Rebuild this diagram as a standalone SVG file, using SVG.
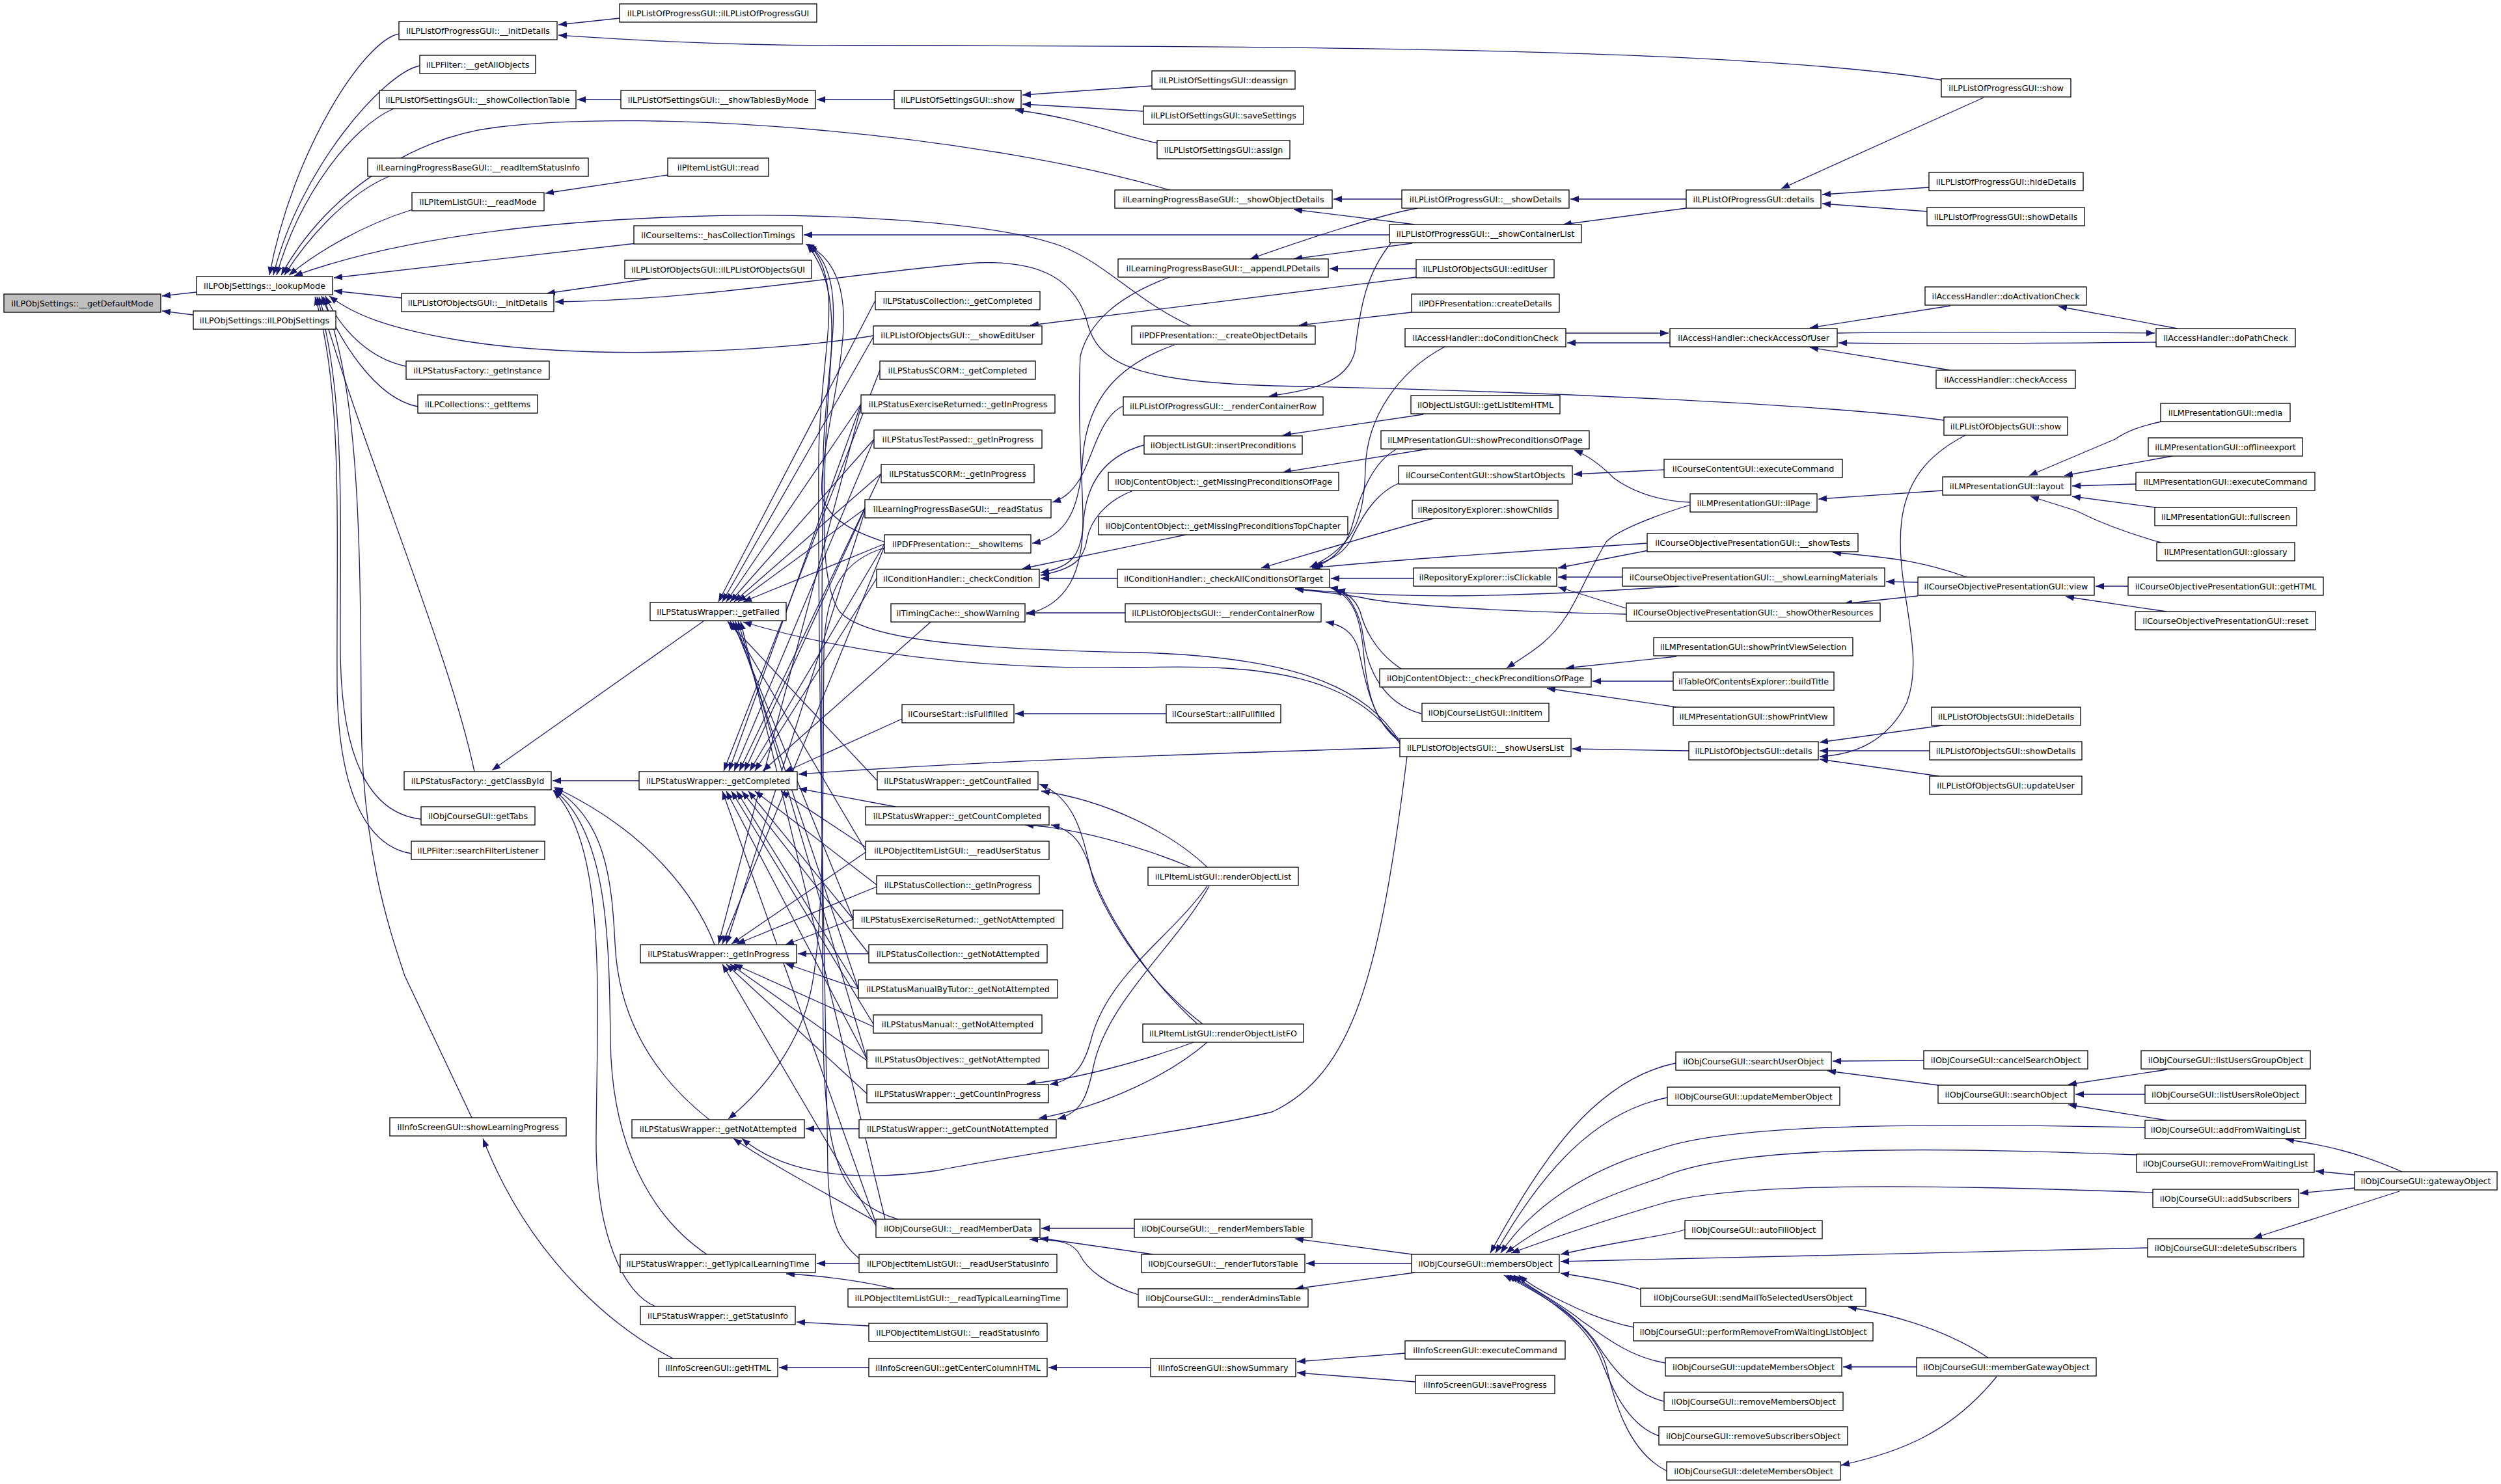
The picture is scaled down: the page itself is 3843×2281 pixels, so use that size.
<svg xmlns="http://www.w3.org/2000/svg" width="3843" height="2281" viewBox="0 0 3843 2281">
<defs>
<marker id="a" markerWidth="14" markerHeight="10" refX="13" refY="5" orient="auto" markerUnits="userSpaceOnUse"><path d="M0,0 L13,5 L0,10 z" fill="#191970"/></marker>
<style>
.n rect{fill:#fff;stroke:#000;stroke-width:1.3}
.n text{font-family:"DejaVu Sans",sans-serif;font-size:12.7px;text-anchor:middle;fill:#000}
#n0 rect{fill:#bfbfbf}
#edges path{fill:none;stroke:#191970;stroke-width:1.3;marker-end:url(#a)}
</style>
</defs>
<rect x="0" y="0" width="3843" height="2281" fill="#fff"/>
<g id="edges">
<path d="M302,449 L249,455"/>
<path d="M297,484 L249,478"/>
<path d="M613,52 C560,62 450,230 414,423"/>
<path d="M645,101 C590,112 460,260 420,423"/>
<path d="M605,167 C540,195 460,300 425,423"/>
<path d="M1797,292 C1500,205 1000,165 760,196 C630,212 500,300 432,423"/>
<path d="M598,271 C530,300 470,370 437,423"/>
<path d="M634,322 C560,345 490,385 444,423"/>
<path d="M1830,501 C1745,462 1700,405 1630,378 C1520,338 1250,326 1050,333 C800,342 600,370 452,424"/>
<path d="M978,374 L513,427"/>
<path d="M617,458 L513,447"/>
<path d="M1342,516 C1200,540 900,556 700,522 C600,505 545,485 506,455"/>
<path d="M624,563 C570,552 525,510 500,455"/>
<path d="M642,625 C575,612 520,520 494,455"/>
<path d="M729,1186 C690,1000 560,700 490,456"/>
<path d="M647,1259 C565,1250 524,1160 523,1000 C522,800 532,600 487,456"/>
<path d="M632,1312 C560,1300 519,1210 518,1050 C517,800 527,600 484,456"/>
<path d="M725,1718 L622,1500 C595,1420 556,1300 555,1100 C554,800 550,600 497,456"/>
<path d="M952,28 L858,38"/>
<path d="M2983,123 C2700,78 2100,70 1300,70 C1100,70 950,60 858,54"/>
<path d="M954,153 L887,153"/>
<path d="M1374,153 L1255,153"/>
<path d="M1770,132 L1571,146"/>
<path d="M1757,171 L1571,160"/>
<path d="M1778,220 C1710,205 1660,182 1560,169"/>
<path d="M1026,269 L838,297"/>
<path d="M2135,361 L1235,361"/>
<path d="M1359,833 C1320,820 1270,800 1263,760 C1258,700 1300,560 1296,480 C1293,420 1270,390 1238,375"/>
<path d="M2151,1140 C2100,1060 2000,1010 1750,1003 C1500,998 1330,985 1290,940 C1262,900 1265,800 1268,700 C1272,550 1300,450 1240,376"/>
<path d="M1380,1874 C1300,1850 1268,1800 1265,1600 C1262,1300 1262,900 1265,700 C1268,550 1310,430 1242,375"/>
<path d="M1320,1934 C1290,1910 1275,1880 1272,1800 C1268,1500 1256,1000 1258,700 C1260,540 1300,440 1244,376"/>
<path d="M1000,428 L840,451"/>
<path d="M2987,646 C2800,620 2300,600 2000,594 C1760,590 1690,565 1672,500 C1655,430 1600,400 1500,404 C1300,420 1100,460 853,464"/>
<path d="M1082,954 L756,1184"/>
<path d="M982,1200 L849,1200"/>
<path d="M1098,1452 C1070,1380 1000,1280 852,1210"/>
<path d="M1090,1721 C1000,1650 950,1560 945,1450 C940,1350 930,1260 852,1212"/>
<path d="M1086,1928 C1000,1870 940,1760 938,1600 C936,1450 935,1280 851,1214"/>
<path d="M1007,2008 C960,1990 915,1900 916,1750 C917,1550 935,1300 850,1215"/>
<path d="M1345,462 L1104,925"/>
<path d="M1342,518 L1110,925"/>
<path d="M1323,621 L1116,925"/>
<path d="M1343,675 L1122,925"/>
<path d="M1354,728 L1128,925"/>
<path d="M1329,782 L1134,925"/>
<path d="M1359,836 L1142,925"/>
<path d="M1348,1200 L1118,955"/>
<path d="M1330,1307 L1122,955"/>
<path d="M1311,1413 L1126,955"/>
<path d="M1319,1520 L1130,955"/>
<path d="M1332,1628 L1134,955"/>
<path d="M1360,1874 L1138,955"/>
<path d="M2151,1143 C2080,1040 1950,1020 1750,1026 C1500,1030 1300,1003 1142,956"/>
<path d="M1352,569 L1112,1185"/>
<path d="M1323,621 L1120,1185"/>
<path d="M1343,675 L1128,1185"/>
<path d="M1354,728 L1136,1185"/>
<path d="M1329,782 L1144,1185"/>
<path d="M1359,836 L1152,1185"/>
<path d="M1347,889 L1160,1185"/>
<path d="M1430,956 L1172,1185"/>
<path d="M1386,1105 L1205,1187"/>
<path d="M2151,1149 C1800,1160 1500,1170 1227,1190"/>
<path d="M1376,1240 L1227,1212"/>
<path d="M1330,1302 L1200,1216"/>
<path d="M1347,1360 L1160,1216"/>
<path d="M1311,1413 L1150,1216"/>
<path d="M1335,1466 L1140,1216"/>
<path d="M1319,1520 L1132,1216"/>
<path d="M1342,1574 L1124,1216"/>
<path d="M1332,1628 L1116,1216"/>
<path d="M1346,1880 L1110,1216"/>
<path d="M1359,840 L1110,1451"/>
<path d="M1329,786 L1116,1451"/>
<path d="M1330,1310 L1124,1451"/>
<path d="M1347,1363 L1132,1451"/>
<path d="M1323,625 L1104,1451"/>
<path d="M1311,1413 L1207,1452"/>
<path d="M1335,1466 L1226,1466"/>
<path d="M1319,1520 L1207,1481"/>
<path d="M1342,1578 L1128,1482"/>
<path d="M1332,1630 L1122,1482"/>
<path d="M1332,1681 L1116,1482"/>
<path d="M1346,1884 L1110,1482"/>
<path d="M1320,1735 L1238,1735"/>
<path d="M1359,842 C1300,860 1268,900 1266,1000 C1264,1200 1268,1420 1246,1523 C1230,1600 1180,1670 1119,1720"/>
<path d="M2162,1163 C2120,1500 2079,1650 1955,1709 C1830,1739 1623,1764 1441,1799 C1300,1820 1200,1800 1140,1750"/>
<path d="M1346,1878 C1300,1850 1200,1800 1127,1750"/>
<path d="M1320,1942 L1255,1942"/>
<path d="M1374,1981 C1330,1970 1260,1960 1208,1958"/>
<path d="M1335,2038 L1224,2032"/>
<path d="M1335,2102 L1197,2102"/>
<path d="M1034,2088 C960,2050 820,1950 742,1750"/>
<path d="M1768,2102 L1611,2102"/>
<path d="M2159,2080 L1993,2093"/>
<path d="M2175,2124 L1993,2110"/>
<path d="M1726,624 C1690,640 1680,700 1660,735 C1645,760 1630,768 1617,772"/>
<path d="M1805,530 C1720,560 1672,610 1664,700 C1660,780 1640,825 1586,835"/>
<path d="M1717,889 L1599,889"/>
<path d="M1758,684 C1700,700 1670,740 1665,800 C1662,850 1650,872 1599,880"/>
<path d="M1739,755 C1700,770 1675,800 1670,830 C1665,860 1650,875 1599,884"/>
<path d="M1822,822 L1571,874"/>
<path d="M1729,942 L1577,942"/>
<path d="M1797,426 C1714,457 1673,497 1660,547 C1655,646 1664,745 1664,800 C1664,880 1640,930 1577,944"/>
<path d="M1792,1097 L1560,1097"/>
<path d="M1848,1574 C1790,1530 1720,1450 1681,1356 C1665,1300 1660,1230 1597,1205"/>
<path d="M1855,1333 C1800,1280 1700,1230 1600,1216"/>
<path d="M1830,1333 C1750,1300 1650,1272 1575,1268"/>
<path d="M1840,1574 C1780,1520 1710,1430 1677,1340 C1665,1300 1650,1275 1615,1268"/>
<path d="M1834,1602 C1760,1630 1650,1660 1578,1666"/>
<path d="M1855,1362 C1800,1440 1700,1500 1676,1600 C1665,1640 1650,1660 1613,1667"/>
<path d="M1855,1602 C1800,1650 1700,1700 1596,1719"/>
<path d="M1858,1362 C1810,1450 1700,1540 1680,1640 C1670,1690 1660,1710 1625,1720"/>
<path d="M1743,1888 L1600,1888"/>
<path d="M1772,1928 L1598,1903"/>
<path d="M1749,1990 C1700,1975 1670,1950 1660,1930 C1650,1910 1630,1905 1582,1905"/>
<path d="M2170,1928 L1990,1904"/>
<path d="M2169,1942 L2007,1942"/>
<path d="M2174,1956 L1990,1981"/>
<path d="M2575,1634 C2450,1660 2370,1780 2290,1926"/>
<path d="M2562,1687 C2450,1710 2370,1800 2298,1926"/>
<path d="M3296,1733 C2900,1725 2650,1730 2550,1766 C2430,1800 2350,1860 2306,1926"/>
<path d="M3283,1775 C2900,1760 2650,1765 2550,1811 C2430,1850 2360,1890 2314,1926"/>
<path d="M3308,1833 C2900,1818 2650,1820 2550,1851 C2450,1880 2380,1905 2322,1926"/>
<path d="M2589,1890 C2560,1900 2500,1905 2398,1928"/>
<path d="M3300,1918 L2398,1939"/>
<path d="M2521,1982 C2500,1975 2450,1965 2398,1957"/>
<path d="M2510,2040 C2460,2030 2420,2010 2390,1995 C2360,1980 2345,1970 2334,1960"/>
<path d="M2559,2095 C2500,2085 2460,2050 2430,2030 C2400,2005 2360,1985 2326,1960"/>
<path d="M2557,2154 C2500,2140 2470,2090 2450,2060 C2420,2020 2380,1995 2320,1960"/>
<path d="M2549,2207 C2500,2190 2475,2130 2460,2090 C2440,2040 2390,2000 2316,1960"/>
<path d="M2561,2261 C2500,2230 2480,2150 2468,2100 C2450,2040 2390,2000 2311,1960"/>
<path d="M2956,1630 L2816,1631"/>
<path d="M2978,1668 L2808,1646"/>
<path d="M3330,1644 L3178,1667"/>
<path d="M3296,1682 L3189,1682"/>
<path d="M3330,1722 L3178,1698"/>
<path d="M3691,1801 C3620,1770 3570,1760 3512,1751"/>
<path d="M3618,1806 L3558,1800"/>
<path d="M3618,1826 L3534,1834"/>
<path d="M3687,1831 L3463,1903"/>
<path d="M3055,2087 C3000,2050 2931,2025 2840,2009"/>
<path d="M2945,2101 L2832,2101"/>
<path d="M3068,2116 C3000,2200 2922,2232 2829,2252"/>
<path d="M2154,306 L2049,306"/>
<path d="M2174,345 L1988,322"/>
<path d="M2178,320 C2120,330 2000,370 1921,398"/>
<path d="M2170,374 L1988,398"/>
<path d="M2176,413 L2043,413"/>
<path d="M2176,426 L1583,500"/>
<path d="M2169,480 L1996,500"/>
<path d="M2137,374 C2100,420 2090,470 2082,540 C2070,590 2010,600 1950,609"/>
<path d="M2591,306 L2413,306"/>
<path d="M2591,320 L2402,345"/>
<path d="M3048,150 L2737,290"/>
<path d="M2964,288 L2800,299"/>
<path d="M2961,325 L2800,313"/>
<path d="M2187,637 L1971,669"/>
<path d="M2195,690 L1971,726"/>
<path d="M2597,772 C2540,770 2500,750 2480,735 C2460,715 2440,700 2419,692"/>
<path d="M2557,722 L2418,729"/>
<path d="M2203,797 C2150,810 2050,840 1938,873"/>
<path d="M2149,743 C2110,760 2090,800 2074,833 C2060,855 2040,862 2012,872"/>
<path d="M2220,533 C2150,570 2100,640 2098,720 C2096,800 2080,840 2013,872"/>
<path d="M2145,691 C2110,710 2090,760 2080,800 C2070,840 2050,860 2020,872"/>
<path d="M2531,835 C2300,850 2150,860 2016,873"/>
<path d="M2172,889 L2045,889"/>
<path d="M2580,901 C2300,920 2150,920 1990,905"/>
<path d="M2499,944 C2300,940 2150,930 2100,920 C2060,912 2010,908 1990,905"/>
<path d="M2153,1028 C2110,1000 2095,960 2090,940 C2080,915 2060,906 2043,903"/>
<path d="M2184,1097 C2120,1080 2100,1020 2095,980 C2090,940 2070,910 2054,906"/>
<path d="M2149,1135 C2110,1110 2100,1060 2095,1000 C2090,950 2080,920 2050,906"/>
<path d="M2149,1138 C2110,1110 2098,1050 2088,1000 C2080,970 2060,960 2037,956"/>
<path d="M2566,527 L2408,527"/>
<path d="M2406,512 L2564,512"/>
<path d="M2997,470 L2781,504"/>
<path d="M3313,526 C3100,528 2950,529 2825,527"/>
<path d="M2823,512 C2950,510 3100,510 3311,512"/>
<path d="M3346,505 L3163,471"/>
<path d="M2997,569 L2781,534"/>
<path d="M2595,1154 L2416,1151"/>
<path d="M2985,1115 L2796,1141"/>
<path d="M2965,1154 L2796,1154"/>
<path d="M2980,1193 L2796,1167"/>
<path d="M3020,669 C2960,700 2930,740 2922,800 C2910,900 2960,1000 2930,1080 C2900,1140 2850,1160 2796,1163"/>
<path d="M2533,846 L2394,873"/>
<path d="M2493,887 L2394,887"/>
<path d="M2499,935 L2394,902"/>
<path d="M2576,1009 L2406,1027"/>
<path d="M2571,1047 L2447,1047"/>
<path d="M2584,1088 L2377,1058"/>
<path d="M2597,776 C2520,800 2480,820 2468,833 C2440,880 2420,930 2406,948 C2380,990 2340,1010 2315,1027"/>
<path d="M2985,754 L2794,767"/>
<path d="M3321,648 C3290,655 3271,661 3250,675 L3118,731"/>
<path d="M3338,701 L3172,731"/>
<path d="M3282,744 L3184,747"/>
<path d="M3313,780 L3184,763"/>
<path d="M3321,834 C3270,820 3230,805 3190,785 L3120,763"/>
<path d="M3022,887 C2960,865 2920,858 2816,849"/>
<path d="M2947,895 L2898,894"/>
<path d="M2947,916 L2833,928"/>
<path d="M3270,901 L3220,901"/>
<path d="M3329,940 L3174,917"/>
</g>
<g id="n0" class="n"><rect x="6" y="452" width="241" height="28"/><text x="126.5" y="470.5">ilLPObjSettings::__getDefaultMode</text></g>
<g id="n1" class="n"><rect x="302" y="425" width="209" height="28"/><text x="406.5" y="443.5">ilLPObjSettings::_lookupMode</text></g>
<g id="n2" class="n"><rect x="297" y="478" width="219" height="28"/><text x="406.5" y="496.5">ilLPObjSettings::ilLPObjSettings</text></g>
<g id="n3" class="n"><rect x="613" y="33" width="243" height="28"/><text x="734.5" y="51.5">ilLPListOfProgressGUI::__initDetails</text></g>
<g id="n4" class="n"><rect x="645" y="85" width="178" height="28"/><text x="734" y="103.5">ilLPFilter::__getAllObjects</text></g>
<g id="n5" class="n"><rect x="583" y="139" width="302" height="28"/><text x="734" y="157.5">ilLPListOfSettingsGUI::__showCollectionTable</text></g>
<g id="n6" class="n"><rect x="565" y="243" width="339" height="28"/><text x="734.5" y="261.5">ilLearningProgressBaseGUI::__readItemStatusInfo</text></g>
<g id="n7" class="n"><rect x="633" y="296" width="203" height="28"/><text x="734.5" y="314.5">ilLPItemListGUI::__readMode</text></g>
<g id="n8" class="n"><rect x="617" y="451" width="234" height="28"/><text x="734" y="469.5">ilLPListOfObjectsGUI::__initDetails</text></g>
<g id="n9" class="n"><rect x="624" y="555" width="220" height="28"/><text x="734" y="573.5">ilLPStatusFactory::_getInstance</text></g>
<g id="n10" class="n"><rect x="642" y="607" width="184" height="28"/><text x="734" y="625.5">ilLPCollections::_getItems</text></g>
<g id="n11" class="n"><rect x="621" y="1186" width="226" height="28"/><text x="734" y="1204.5">ilLPStatusFactory::_getClassById</text></g>
<g id="n12" class="n"><rect x="647" y="1240" width="175" height="28"/><text x="734.5" y="1258.5">ilObjCourseGUI::getTabs</text></g>
<g id="n13" class="n"><rect x="632" y="1293" width="205" height="28"/><text x="734.5" y="1311.5">ilLPFilter::searchFilterListener</text></g>
<g id="n14" class="n"><rect x="599" y="1718" width="271" height="28"/><text x="734.5" y="1736.5">ilInfoScreenGUI::showLearningProgress</text></g>
<g id="n15" class="n"><rect x="952" y="6" width="303" height="28"/><text x="1103.5" y="24.5">ilLPListOfProgressGUI::ilLPListOfProgressGUI</text></g>
<g id="n16" class="n"><rect x="954" y="139" width="299" height="28"/><text x="1103.5" y="157.5">ilLPListOfSettingsGUI::__showTablesByMode</text></g>
<g id="n17" class="n"><rect x="1026" y="243" width="155" height="28"/><text x="1103.5" y="261.5">ilPItemListGUI::read</text></g>
<g id="n18" class="n"><rect x="974" y="347" width="259" height="28"/><text x="1103.5" y="365.5">ilCourseItems::_hasCollectionTimings</text></g>
<g id="n19" class="n"><rect x="960" y="400" width="287" height="28"/><text x="1103.5" y="418.5">ilLPListOfObjectsGUI::ilLPListOfObjectsGUI</text></g>
<g id="n20" class="n"><rect x="999" y="926" width="209" height="28"/><text x="1103.5" y="944.5">ilLPStatusWrapper::_getFailed</text></g>
<g id="n21" class="n"><rect x="982" y="1186" width="243" height="28"/><text x="1103.5" y="1204.5">ilLPStatusWrapper::_getCompleted</text></g>
<g id="n22" class="n"><rect x="984" y="1452" width="240" height="28"/><text x="1104" y="1470.5">ilLPStatusWrapper::_getInProgress</text></g>
<g id="n23" class="n"><rect x="971" y="1721" width="265" height="28"/><text x="1103.5" y="1739.5">ilLPStatusWrapper::_getNotAttempted</text></g>
<g id="n24" class="n"><rect x="953" y="1928" width="300" height="28"/><text x="1103" y="1946.5">ilLPStatusWrapper::_getTypicalLearningTime</text></g>
<g id="n25" class="n"><rect x="984" y="2008" width="238" height="28"/><text x="1103" y="2026.5">ilLPStatusWrapper::_getStatusInfo</text></g>
<g id="n26" class="n"><rect x="1012" y="2088" width="183" height="28"/><text x="1103.5" y="2106.5">ilInfoScreenGUI::getHTML</text></g>
<g id="n27" class="n"><rect x="1374" y="139" width="195" height="28"/><text x="1471.5" y="157.5">ilLPListOfSettingsGUI::show</text></g>
<g id="n28" class="n"><rect x="1345" y="448" width="253" height="28"/><text x="1471.5" y="466.5">ilLPStatusCollection::_getCompleted</text></g>
<g id="n29" class="n"><rect x="1342" y="501" width="259" height="28"/><text x="1471.5" y="519.5">ilLPListOfObjectsGUI::__showEditUser</text></g>
<g id="n30" class="n"><rect x="1352" y="555" width="239" height="28"/><text x="1471.5" y="573.5">ilLPStatusSCORM::_getCompleted</text></g>
<g id="n31" class="n"><rect x="1323" y="607" width="298" height="28"/><text x="1472" y="625.5">ilLPStatusExerciseReturned::_getInProgress</text></g>
<g id="n32" class="n"><rect x="1343" y="661" width="258" height="28"/><text x="1472" y="679.5">ilLPStatusTestPassed::_getInProgress</text></g>
<g id="n33" class="n"><rect x="1354" y="714" width="235" height="28"/><text x="1471.5" y="732.5">ilLPStatusSCORM::_getInProgress</text></g>
<g id="n34" class="n"><rect x="1329" y="768" width="286" height="28"/><text x="1472" y="786.5">ilLearningProgressBaseGUI::__readStatus</text></g>
<g id="n35" class="n"><rect x="1359" y="822" width="225" height="28"/><text x="1471.5" y="840.5">ilPDFPresentation::__showItems</text></g>
<g id="n36" class="n"><rect x="1347" y="875" width="250" height="28"/><text x="1472" y="893.5">ilConditionHandler::_checkCondition</text></g>
<g id="n37" class="n"><rect x="1369" y="928" width="206" height="28"/><text x="1472" y="946.5">ilTimingCache::_showWarning</text></g>
<g id="n38" class="n"><rect x="1386" y="1083" width="172" height="28"/><text x="1472" y="1101.5">ilCourseStart::isFullfilled</text></g>
<g id="n39" class="n"><rect x="1348" y="1186" width="247" height="28"/><text x="1471.5" y="1204.5">ilLPStatusWrapper::_getCountFailed</text></g>
<g id="n40" class="n"><rect x="1330" y="1240" width="282" height="28"/><text x="1471" y="1258.5">ilLPStatusWrapper::_getCountCompleted</text></g>
<g id="n41" class="n"><rect x="1330" y="1293" width="282" height="28"/><text x="1471" y="1311.5">ilLPObjectItemListGUI::__readUserStatus</text></g>
<g id="n42" class="n"><rect x="1347" y="1346" width="250" height="28"/><text x="1472" y="1364.5">ilLPStatusCollection::_getInProgress</text></g>
<g id="n43" class="n"><rect x="1311" y="1399" width="322" height="28"/><text x="1472" y="1417.5">ilLPStatusExerciseReturned::_getNotAttempted</text></g>
<g id="n44" class="n"><rect x="1335" y="1452" width="274" height="28"/><text x="1472" y="1470.5">ilLPStatusCollection::_getNotAttempted</text></g>
<g id="n45" class="n"><rect x="1319" y="1506" width="306" height="28"/><text x="1472" y="1524.5">ilLPStatusManualByTutor::_getNotAttempted</text></g>
<g id="n46" class="n"><rect x="1342" y="1560" width="259" height="28"/><text x="1471.5" y="1578.5">ilLPStatusManual::_getNotAttempted</text></g>
<g id="n47" class="n"><rect x="1332" y="1614" width="279" height="28"/><text x="1471.5" y="1632.5">ilLPStatusObjectives::_getNotAttempted</text></g>
<g id="n48" class="n"><rect x="1332" y="1667" width="279" height="28"/><text x="1471.5" y="1685.5">ilLPStatusWrapper::_getCountInProgress</text></g>
<g id="n49" class="n"><rect x="1320" y="1721" width="303" height="28"/><text x="1471.5" y="1739.5">ilLPStatusWrapper::_getCountNotAttempted</text></g>
<g id="n50" class="n"><rect x="1346" y="1874" width="252" height="28"/><text x="1472" y="1892.5">ilObjCourseGUI::__readMemberData</text></g>
<g id="n51" class="n"><rect x="1320" y="1928" width="304" height="28"/><text x="1472" y="1946.5">ilLPObjectItemListGUI::__readUserStatusInfo</text></g>
<g id="n52" class="n"><rect x="1303" y="1981" width="337" height="28"/><text x="1471.5" y="1999.5">ilLPObjectItemListGUI::__readTypicalLearningTime</text></g>
<g id="n53" class="n"><rect x="1335" y="2034" width="274" height="28"/><text x="1472" y="2052.5">ilLPObjectItemListGUI::__readStatusInfo</text></g>
<g id="n54" class="n"><rect x="1335" y="2088" width="274" height="28"/><text x="1472" y="2106.5">ilInfoScreenGUI::getCenterColumnHTML</text></g>
<g id="n55" class="n"><rect x="1770" y="109" width="220" height="28"/><text x="1880" y="127.5">ilLPListOfSettingsGUI::deassign</text></g>
<g id="n56" class="n"><rect x="1757" y="163" width="246" height="28"/><text x="1880" y="181.5">ilLPListOfSettingsGUI::saveSettings</text></g>
<g id="n57" class="n"><rect x="1778" y="216" width="204" height="28"/><text x="1880" y="234.5">ilLPListOfSettingsGUI::assign</text></g>
<g id="n58" class="n"><rect x="1713" y="292" width="334" height="28"/><text x="1880" y="310.5">ilLearningProgressBaseGUI::__showObjectDetails</text></g>
<g id="n59" class="n"><rect x="1718" y="398" width="323" height="28"/><text x="1879.5" y="416.5">ilLearningProgressBaseGUI::__appendLPDetails</text></g>
<g id="n60" class="n"><rect x="1739" y="501" width="282" height="28"/><text x="1880" y="519.5">ilPDFPresentation::__createObjectDetails</text></g>
<g id="n61" class="n"><rect x="1726" y="610" width="307" height="28"/><text x="1879.5" y="628.5">ilLPListOfProgressGUI::__renderContainerRow</text></g>
<g id="n62" class="n"><rect x="1758" y="670" width="243" height="28"/><text x="1879.5" y="688.5">ilObjectListGUI::insertPreconditions</text></g>
<g id="n63" class="n"><rect x="1703" y="726" width="354" height="28"/><text x="1880" y="744.5">ilObjContentObject::_getMissingPreconditionsOfPage</text></g>
<g id="n64" class="n"><rect x="1688" y="794" width="383" height="28"/><text x="1879.5" y="812.5">ilObjContentObject::_getMissingPreconditionsTopChapter</text></g>
<g id="n65" class="n"><rect x="1717" y="875" width="326" height="28"/><text x="1880" y="893.5">ilConditionHandler::_checkAllConditionsOfTarget</text></g>
<g id="n66" class="n"><rect x="1729" y="928" width="301" height="28"/><text x="1879.5" y="946.5">ilLPListOfObjectsGUI::__renderContainerRow</text></g>
<g id="n67" class="n"><rect x="1792" y="1083" width="176" height="28"/><text x="1880" y="1101.5">ilCourseStart::allFullfilled</text></g>
<g id="n68" class="n"><rect x="1764" y="1333" width="231" height="28"/><text x="1879.5" y="1351.5">ilLPItemListGUI::renderObjectList</text></g>
<g id="n69" class="n"><rect x="1756" y="1574" width="247" height="28"/><text x="1879.5" y="1592.5">ilLPItemListGUI::renderObjectListFO</text></g>
<g id="n70" class="n"><rect x="1743" y="1874" width="273" height="28"/><text x="1879.5" y="1892.5">ilObjCourseGUI::__renderMembersTable</text></g>
<g id="n71" class="n"><rect x="1754" y="1928" width="251" height="28"/><text x="1879.5" y="1946.5">ilObjCourseGUI::__renderTutorsTable</text></g>
<g id="n72" class="n"><rect x="1749" y="1981" width="261" height="28"/><text x="1879.5" y="1999.5">ilObjCourseGUI::__renderAdminsTable</text></g>
<g id="n73" class="n"><rect x="1768" y="2088" width="223" height="28"/><text x="1879.5" y="2106.5">ilInfoScreenGUI::showSummary</text></g>
<g id="n74" class="n"><rect x="2154" y="292" width="257" height="28"/><text x="2282.5" y="310.5">ilLPListOfProgressGUI::__showDetails</text></g>
<g id="n75" class="n"><rect x="2135" y="345" width="295" height="28"/><text x="2282.5" y="363.5">ilLPListOfProgressGUI::__showContainerList</text></g>
<g id="n76" class="n"><rect x="2176" y="399" width="212" height="28"/><text x="2282" y="417.5">ilLPListOfObjectsGUI::editUser</text></g>
<g id="n77" class="n"><rect x="2169" y="452" width="227" height="28"/><text x="2282.5" y="470.5">ilPDFPresentation::createDetails</text></g>
<g id="n78" class="n"><rect x="2159" y="505" width="247" height="28"/><text x="2282.5" y="523.5">ilAccessHandler::doConditionCheck</text></g>
<g id="n79" class="n"><rect x="2168" y="608" width="229" height="28"/><text x="2282.5" y="626.5">ilObjectListGUI::getListItemHTML</text></g>
<g id="n80" class="n"><rect x="2122" y="662" width="320" height="28"/><text x="2282" y="680.5">ilLMPresentationGUI::showPreconditionsOfPage</text></g>
<g id="n81" class="n"><rect x="2149" y="716" width="267" height="28"/><text x="2282.5" y="734.5">ilCourseContentGUI::showStartObjects</text></g>
<g id="n82" class="n"><rect x="2170" y="769" width="224" height="28"/><text x="2282" y="787.5">ilRepositoryExplorer::showChilds</text></g>
<g id="n83" class="n"><rect x="2172" y="873" width="220" height="28"/><text x="2282" y="891.5">ilRepositoryExplorer::isClickable</text></g>
<g id="n84" class="n"><rect x="2120" y="1028" width="325" height="28"/><text x="2282.5" y="1046.5">ilObjContentObject::_checkPreconditionsOfPage</text></g>
<g id="n85" class="n"><rect x="2185" y="1081" width="195" height="28"/><text x="2282.5" y="1099.5">ilObjCourseListGUI::initItem</text></g>
<g id="n86" class="n"><rect x="2151" y="1135" width="263" height="28"/><text x="2282.5" y="1153.5">ilLPListOfObjectsGUI::__showUsersList</text></g>
<g id="n87" class="n"><rect x="2169" y="1928" width="227" height="28"/><text x="2282.5" y="1946.5">ilObjCourseGUI::membersObject</text></g>
<g id="n88" class="n"><rect x="2159" y="2061" width="246" height="28"/><text x="2282" y="2079.5">ilInfoScreenGUI::executeCommand</text></g>
<g id="n89" class="n"><rect x="2175" y="2114" width="214" height="28"/><text x="2282" y="2132.5">ilInfoScreenGUI::saveProgress</text></g>
<g id="n90" class="n"><rect x="2591" y="292" width="207" height="28"/><text x="2694.5" y="310.5">ilLPListOfProgressGUI::details</text></g>
<g id="n91" class="n"><rect x="2566" y="505" width="257" height="28"/><text x="2694.5" y="523.5">ilAccessHandler::checkAccessOfUser</text></g>
<g id="n92" class="n"><rect x="2557" y="706" width="274" height="28"/><text x="2694" y="724.5">ilCourseContentGUI::executeCommand</text></g>
<g id="n93" class="n"><rect x="2597" y="759" width="195" height="28"/><text x="2694.5" y="777.5">ilLMPresentationGUI::ilPage</text></g>
<g id="n94" class="n"><rect x="2531" y="820" width="324" height="28"/><text x="2693" y="838.5">ilCourseObjectivePresentationGUI::__showTests</text></g>
<g id="n95" class="n"><rect x="2493" y="873" width="403" height="28"/><text x="2694.5" y="891.5">ilCourseObjectivePresentationGUI::__showLearningMaterials</text></g>
<g id="n96" class="n"><rect x="2499" y="927" width="390" height="28"/><text x="2694" y="945.5">ilCourseObjectivePresentationGUI::__showOtherResources</text></g>
<g id="n97" class="n"><rect x="2541" y="980" width="306" height="28"/><text x="2694" y="998.5">ilLMPresentationGUI::showPrintViewSelection</text></g>
<g id="n98" class="n"><rect x="2571" y="1033" width="247" height="28"/><text x="2694.5" y="1051.5">ilTableOfContentsExplorer::buildTitle</text></g>
<g id="n99" class="n"><rect x="2571" y="1087" width="247" height="28"/><text x="2694.5" y="1105.5">ilLMPresentationGUI::showPrintView</text></g>
<g id="n100" class="n"><rect x="2595" y="1140" width="199" height="28"/><text x="2694.5" y="1158.5">ilLPListOfObjectsGUI::details</text></g>
<g id="n101" class="n"><rect x="2575" y="1617" width="239" height="28"/><text x="2694.5" y="1635.5">ilObjCourseGUI::searchUserObject</text></g>
<g id="n102" class="n"><rect x="2562" y="1671" width="265" height="28"/><text x="2694.5" y="1689.5">ilObjCourseGUI::updateMemberObject</text></g>
<g id="n103" class="n"><rect x="2589" y="1876" width="211" height="28"/><text x="2694.5" y="1894.5">ilObjCourseGUI::autoFillObject</text></g>
<g id="n104" class="n"><rect x="2521" y="1980" width="346" height="28"/><text x="2694" y="1998.5">ilObjCourseGUI::sendMailToSelectedUsersObject</text></g>
<g id="n105" class="n"><rect x="2510" y="2033" width="368" height="28"/><text x="2694" y="2051.5">ilObjCourseGUI::performRemoveFromWaitingListObject</text></g>
<g id="n106" class="n"><rect x="2559" y="2087" width="271" height="28"/><text x="2694.5" y="2105.5">ilObjCourseGUI::updateMembersObject</text></g>
<g id="n107" class="n"><rect x="2557" y="2140" width="275" height="28"/><text x="2694.5" y="2158.5">ilObjCourseGUI::removeMembersObject</text></g>
<g id="n108" class="n"><rect x="2549" y="2193" width="290" height="28"/><text x="2694" y="2211.5">ilObjCourseGUI::removeSubscribersObject</text></g>
<g id="n109" class="n"><rect x="2561" y="2247" width="267" height="28"/><text x="2694.5" y="2265.5">ilObjCourseGUI::deleteMembersObject</text></g>
<g id="n110" class="n"><rect x="2983" y="121" width="199" height="28"/><text x="3082.5" y="139.5">ilLPListOfProgressGUI::show</text></g>
<g id="n111" class="n"><rect x="2964" y="265" width="237" height="28"/><text x="3082.5" y="283.5">ilLPListOfProgressGUI::hideDetails</text></g>
<g id="n112" class="n"><rect x="2961" y="319" width="242" height="28"/><text x="3082" y="337.5">ilLPListOfProgressGUI::showDetails</text></g>
<g id="n113" class="n"><rect x="2958" y="441" width="248" height="28"/><text x="3082" y="459.5">ilAccessHandler::doActivationCheck</text></g>
<g id="n114" class="n"><rect x="2975" y="569" width="214" height="28"/><text x="3082" y="587.5">ilAccessHandler::checkAccess</text></g>
<g id="n115" class="n"><rect x="2987" y="641" width="190" height="28"/><text x="3082" y="659.5">ilLPListOfObjectsGUI::show</text></g>
<g id="n116" class="n"><rect x="2985" y="733" width="197" height="28"/><text x="3083.5" y="751.5">ilLMPresentationGUI::layout</text></g>
<g id="n117" class="n"><rect x="2947" y="887" width="271" height="28"/><text x="3082.5" y="905.5">ilCourseObjectivePresentationGUI::view</text></g>
<g id="n118" class="n"><rect x="2968" y="1087" width="229" height="28"/><text x="3082.5" y="1105.5">ilLPListOfObjectsGUI::hideDetails</text></g>
<g id="n119" class="n"><rect x="2965" y="1140" width="234" height="28"/><text x="3082" y="1158.5">ilLPListOfObjectsGUI::showDetails</text></g>
<g id="n120" class="n"><rect x="2965" y="1193" width="234" height="28"/><text x="3082" y="1211.5">ilLPListOfObjectsGUI::updateUser</text></g>
<g id="n121" class="n"><rect x="2956" y="1615" width="252" height="28"/><text x="3082" y="1633.5">ilObjCourseGUI::cancelSearchObject</text></g>
<g id="n122" class="n"><rect x="2978" y="1668" width="209" height="28"/><text x="3082.5" y="1686.5">ilObjCourseGUI::searchObject</text></g>
<g id="n123" class="n"><rect x="2945" y="2087" width="276" height="28"/><text x="3083" y="2105.5">ilObjCourseGUI::memberGatewayObject</text></g>
<g id="n124" class="n"><rect x="3313" y="505" width="214" height="28"/><text x="3420" y="523.5">ilAccessHandler::doPathCheck</text></g>
<g id="n125" class="n"><rect x="3320" y="620" width="199" height="28"/><text x="3419.5" y="638.5">ilLMPresentationGUI::media</text></g>
<g id="n126" class="n"><rect x="3301" y="673" width="237" height="28"/><text x="3419.5" y="691.5">ilLMPresentationGUI::offlineexport</text></g>
<g id="n127" class="n"><rect x="3282" y="726" width="275" height="28"/><text x="3419.5" y="744.5">ilLMPresentationGUI::executeCommand</text></g>
<g id="n128" class="n"><rect x="3311" y="780" width="218" height="28"/><text x="3420" y="798.5">ilLMPresentationGUI::fullscreen</text></g>
<g id="n129" class="n"><rect x="3314" y="834" width="212" height="28"/><text x="3420" y="852.5">ilLMPresentationGUI::glossary</text></g>
<g id="n130" class="n"><rect x="3270" y="887" width="300" height="28"/><text x="3420" y="905.5">ilCourseObjectivePresentationGUI::getHTML</text></g>
<g id="n131" class="n"><rect x="3281" y="940" width="277" height="28"/><text x="3419.5" y="958.5">ilCourseObjectivePresentationGUI::reset</text></g>
<g id="n132" class="n"><rect x="3290" y="1615" width="260" height="28"/><text x="3420" y="1633.5">ilObjCourseGUI::listUsersGroupObject</text></g>
<g id="n133" class="n"><rect x="3296" y="1668" width="247" height="28"/><text x="3419.5" y="1686.5">ilObjCourseGUI::listUsersRoleObject</text></g>
<g id="n134" class="n"><rect x="3296" y="1722" width="247" height="28"/><text x="3419.5" y="1740.5">ilObjCourseGUI::addFromWaitingList</text></g>
<g id="n135" class="n"><rect x="3283" y="1774" width="273" height="28"/><text x="3419.5" y="1792.5">ilObjCourseGUI::removeFromWaitingList</text></g>
<g id="n136" class="n"><rect x="3308" y="1828" width="224" height="28"/><text x="3420" y="1846.5">ilObjCourseGUI::addSubscribers</text></g>
<g id="n137" class="n"><rect x="3300" y="1904" width="240" height="28"/><text x="3420" y="1922.5">ilObjCourseGUI::deleteSubscribers</text></g>
<g id="n138" class="n"><rect x="3618" y="1801" width="219" height="28"/><text x="3727.5" y="1819.5">ilObjCourseGUI::gatewayObject</text></g>
</svg>
